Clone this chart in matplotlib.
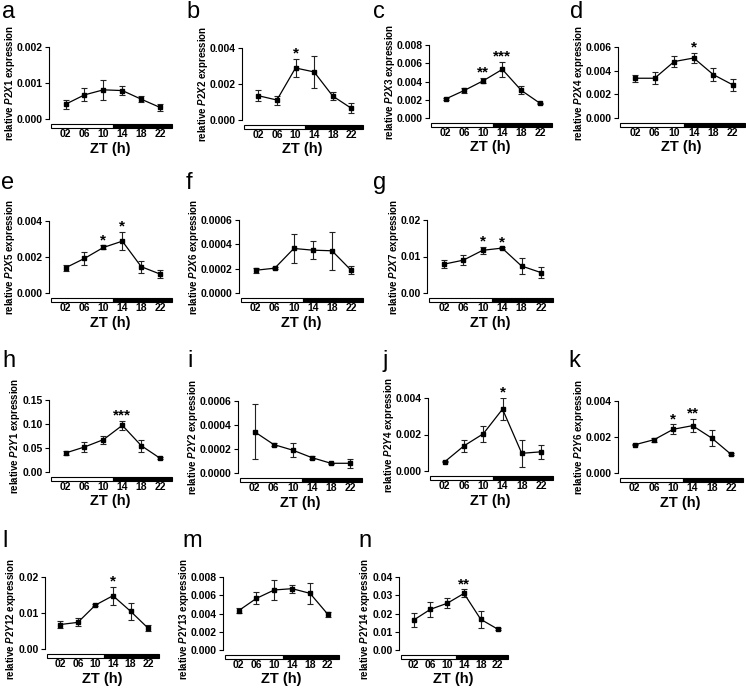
import matplotlib.pyplot as plt
from matplotlib.patches import Rectangle
from matplotlib.ticker import FormatStrFormatter
import numpy as np

plt.rcParams['font.family'] = ['Liberation Sans', 'DejaVu Sans']
plt.rcParams['mathtext.fontset'] = 'custom'
plt.rcParams['mathtext.it'] = 'Liberation Sans:italic:bold'
plt.rcParams['mathtext.rm'] = 'Liberation Sans:bold'

zt = [2, 6, 10, 14, 18, 22]
zt_labels = ['02', '06', '10', '14', '18', '22']

# mean / sem
p2x1 = [0.00041, 0.00067, 0.00081, 0.00079, 0.00055, 0.00032]
p2x1_err = [0.00012, 0.00018, 0.00027, 0.00013, 0.00009, 0.00011]
p2x2 = [0.00135, 0.00111, 0.00289, 0.00267, 0.00133, 0.00065]
p2x2_err = [0.00030, 0.00025, 0.00050, 0.00090, 0.00022, 0.00028]
p2x3 = [0.00208, 0.00303, 0.00409, 0.00533, 0.00303, 0.00160]
p2x3_err = [0.00016, 0.00028, 0.00028, 0.00080, 0.00044, 0.00006]
p2x4 = [0.00336, 0.00336, 0.00477, 0.00507, 0.00367, 0.00280]
p2x4_err = [0.00030, 0.00050, 0.00047, 0.00040, 0.00053, 0.00053]
p2x5 = [0.00140, 0.00192, 0.00253, 0.00288, 0.00146, 0.00105]
p2x5_err = [0.00018, 0.00037, 0.00011, 0.00051, 0.00033, 0.00022]
p2x6 = [0.000187, 0.000204, 0.000366, 0.000352, 0.000347, 0.000187]
p2x6_err = [0.00002, 0.00001, 0.000116, 0.000075, 0.000154, 0.000033]
p2x7 = [0.0079, 0.0090, 0.0117, 0.0123, 0.0074, 0.0056]
p2x7_err = [0.0011, 0.0014, 0.0009, 0.0002, 0.0023, 0.0014]
p2y1 = [0.0396, 0.0521, 0.0674, 0.0972, 0.0549, 0.0285]
p2y1_err = [0.0048, 0.0110, 0.0083, 0.0097, 0.0125, 0.0020]
p2y2 = [0.000343, 0.000237, 0.000190, 0.000128, 0.000081, 0.000081]
p2y2_err = [0.000229, 0.000014, 0.000056, 0.00001, 0.000006, 0.000036]
p2y4 = [0.00051, 0.00138, 0.00204, 0.00339, 0.00097, 0.00105]
p2y4_err = [0.00004, 0.00033, 0.00044, 0.00061, 0.00074, 0.00037]
p2y6 = [0.00157, 0.00185, 0.00243, 0.00263, 0.00194, 0.00104]
p2y6_err = [0.00004, 0.00010, 0.00027, 0.00037, 0.00043, 0.00005]
p2y12 = [0.0068, 0.0074, 0.0122, 0.0148, 0.0105, 0.0058]
p2y12_err = [0.0010, 0.0011, 0.0003, 0.0025, 0.0024, 0.0008]
p2y13 = [0.00431, 0.00566, 0.00658, 0.00672, 0.00621, 0.00391]
p2y13_err = [0.00026, 0.00066, 0.00110, 0.00044, 0.00117, 0.00030]
p2y14 = [0.0164, 0.0223, 0.0256, 0.0310, 0.0168, 0.0115]
p2y14_err = [0.0040, 0.0042, 0.0027, 0.0022, 0.0047, 0.0006]

genes = ['P2X1', 'P2X2', 'P2X3', 'P2X4', 'P2X5', 'P2X6', 'P2X7',
         'P2Y1', 'P2Y2', 'P2Y4', 'P2Y6', 'P2Y12', 'P2Y13', 'P2Y14']
letters = list('abcdefghijklmn')
means = [p2x1, p2x2, p2x3, p2x4, p2x5, p2x6, p2x7,
         p2y1, p2y2, p2y4, p2y6, p2y12, p2y13, p2y14]
errs = [p2x1_err, p2x2_err, p2x3_err, p2x4_err, p2x5_err, p2x6_err, p2x7_err,
        p2y1_err, p2y2_err, p2y4_err, p2y6_err, p2y12_err, p2y13_err, p2y14_err]
ymax = [0.002, 0.004, 0.008, 0.006, 0.004, 0.0006, 0.02,
        0.15, 0.0006, 0.004, 0.004, 0.02, 0.008, 0.04]
ystep = [0.001, 0.002, 0.002, 0.002, 0.002, 0.0002, 0.01,
         0.05, 0.0002, 0.002, 0.002, 0.01, 0.002, 0.01]
yfmt = ['%.3f', '%.3f', '%.3f', '%.3f', '%.3f', '%.4f', '%.2f',
        '%.2f', '%.4f', '%.3f', '%.3f', '%.2f', '%.3f', '%.2f']
stars = [[], [(10, '*')], [(10, '**'), (14, '***')], [(14, '*')],
         [(10, '*'), (14, '*')], [], [(10, '*'), (14, '*')],
         [(14, '***')], [], [(14, '*')], [(10, '*'), (14, '**')],
         [(14, '*')], [], [(14, '**')]]

# panel boxes in pixels: left spine, right end, top, zero line
boxes = [(49, 172, 47, 119), (242, 363, 48, 120), (429, 552, 45, 118), (618, 745, 47, 118),
         (49, 172, 221, 293), (239, 363, 220, 293), (427, 553, 220, 293),
         (49, 172, 400, 472), (238, 362, 401, 473), (428, 553, 398, 471), (618, 743, 401, 473),
         (45, 159, 577, 649), (223, 339, 577, 650), (399, 508, 577, 650)]
letter_pos = [(2, 18), (186, 18), (373, 18), (570, 18),
              (1, 189), (186, 189), (373, 189),
              (2, 367), (187, 367), (383, 367), (568, 367),
              (2, 547), (182, 547), (358, 547)]

W, H = 746, 688
fig = plt.figure(figsize=(W / 100, H / 100), dpi=100)

for i in range(14):
    l, r, t, b = boxes[i]
    ax = fig.add_axes([l / W, 1 - b / H, (r - l) / W, (b - t) / H])
    ax.errorbar(zt, means[i], yerr=errs[i], color='black', ecolor='#222222',
                elinewidth=0.8, capsize=2.2, capthick=0.8, marker='s', ms=2.5, lw=0.9)
    ax.set_xlim(-1.5, 24.5)
    ax.set_ylim(0, ymax[i])
    ax.set_yticks(np.arange(0, ymax[i] * 1.001, ystep[i]))
    ax.yaxis.set_major_formatter(FormatStrFormatter(yfmt[i]))
    ax.set_xticks(zt)
    ax.set_xticklabels(zt_labels)
    for s in ['top', 'right', 'bottom']:
        ax.spines[s].set_visible(False)
    ax.spines['left'].set_linewidth(0.8)
    ax.tick_params(axis='x', length=0, pad=7, labelsize=7.5)
    ax.tick_params(axis='y', length=3, width=0.8, pad=1.5, labelsize=7.5)
    for lab in ax.get_xticklabels() + ax.get_yticklabels():
        lab.set_fontweight('bold')
    ax.set_xlabel('ZT (h)', fontsize=10.5, fontweight='bold', labelpad=2)
    ax.set_ylabel('relative $\\mathit{%s}$ expression' % genes[i],
                  fontsize=7, fontweight='bold', labelpad=0,
                  y=0.42 if i >= 11 else 0.5)

    # light / dark bar
    trans = ax.get_xaxis_transform()
    ax.add_patch(Rectangle((-1, -0.122), 13, 0.052, transform=trans, clip_on=False,
                           facecolor='white', edgecolor='black', lw=0.8))
    ax.add_patch(Rectangle((12, -0.122), 12.5, 0.052, transform=trans, clip_on=False,
                           facecolor='black', edgecolor='black', lw=0.8))

    for x, s in stars[i]:
        k = zt.index(x)
        ax.annotate(s, (x, means[i][k] + errs[i][k]), xytext=(0, 1),
                    textcoords='offset points', ha='center', va='baseline',
                    fontsize=11, fontweight='bold')

    lx, ly = letter_pos[i]
    fig.text(lx / W, 1 - ly / H, letters[i], fontsize=17, va='baseline', ha='left')

fig.savefig('out.png', dpi=100)
